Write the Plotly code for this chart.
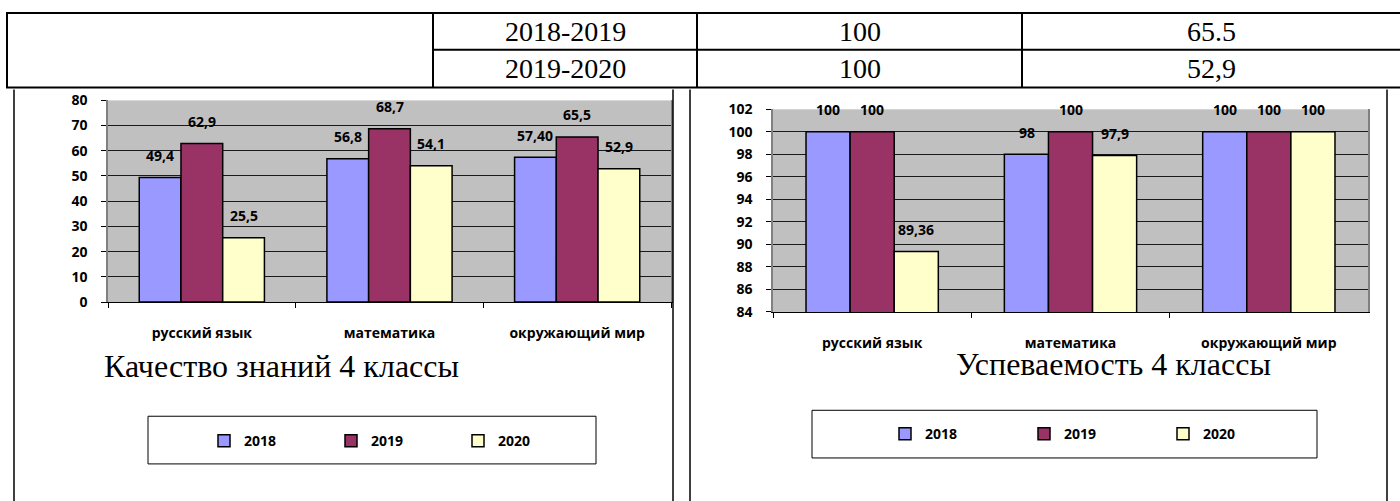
import plotly.graph_objects as go

W, H = 1400, 520
TOP, SY = 8, 0.97  # vertical offset / squeeze seen in the snapshot

# data
subjects = ["русский язык", "математика", "окружающий мир"]
years = ["2018", "2019", "2020"]

quality_2018 = [49.4, 56.8, 57.40]
quality_2019 = [62.9, 68.7, 65.5]
quality_2020 = [25.5, 54.1, 52.9]
quality_lbl_2018 = ["49,4", "56,8", "57,40"]
quality_lbl_2019 = ["62,9", "68,7", "65,5"]
quality_lbl_2020 = ["25,5", "54,1", "52,9"]

progress_2018 = [100, 98, 100]
progress_2019 = [100, 100, 100]
progress_2020 = [89.36, 97.9, 100]
progress_lbl_2018 = ["100", "98", "100"]
progress_lbl_2019 = ["100", "100", "100"]
progress_lbl_2020 = ["89,36", "97,9", "100"]

table_years = ["2018-2019", "2019-2020"]
table_col2 = ["100", "100"]
table_col3 = ["65.5", "52,9"]

title_left = "Качество знаний 4 классы"
title_right = "Успеваемость 4 классы"

colors = ["#9999FF", "#993366", "#FFFFCC"]
bold_font = "Open Sans"
serif_font = "Liberation Serif, Times New Roman, serif"


def px(x):
    return x / W


def py(y):
    return 1 - ((y - TOP) / SY) / H


fig = go.Figure()
annotations = []

charts = [
    ("x", "y", "legend", [quality_2018, quality_2019, quality_2020],
     [quality_lbl_2018, quality_lbl_2019, quality_lbl_2020], 41.7),
    ("x2", "y2", "legend2", [progress_2018, progress_2019, progress_2020],
     [progress_lbl_2018, progress_lbl_2019, progress_lbl_2020], 44),
]

for xa, ya, lg, series, labels, bw in charts:
    for i, (year, vals, lbls) in enumerate(zip(years, series, labels)):
        fig.add_trace(go.Bar(
            x=subjects, y=vals, name=year,
            xaxis=xa, yaxis=ya, legend=lg,
            marker=dict(color=colors[i], line=dict(color="black", width=1.5)),
            hoverinfo="skip"
        ))
        for s, v, t in zip(subjects, vals, lbls):
            annotations.append(dict(
                x=s, y=v, xref=xa, yref=ya, text=t,
                showarrow=False, xshift=(i - 1) * bw, yshift=22,
                xanchor="center", yanchor="middle",
                font=dict(family=bold_font, size=14, color="black",
                          weight="bold")
            ))

# table text
col_centers = [565, 860, 1211]
row_centers = [30, 67]
for r, yc in enumerate(row_centers):
    for c, txt in enumerate([table_years[r], table_col2[r], table_col3[r]]):
        annotations.append(dict(
            x=px(col_centers[c]), y=py(yc), xref="paper", yref="paper",
            text=txt, showarrow=False, xanchor="center", yanchor="middle",
            font=dict(family=serif_font, size=28, color="black")
        ))

# chart titles
annotations.append(dict(
    x=px(281), y=py(366), xref="paper", yref="paper", text=title_left,
    showarrow=False, xanchor="center", yanchor="middle",
    font=dict(family=serif_font, size=32, color="black")))
annotations.append(dict(
    x=px(1113), y=py(364), xref="paper", yref="paper", text=title_right,
    showarrow=False, xanchor="center", yanchor="middle",
    font=dict(family=serif_font, size=32, color="black")))

shapes = []


def line(x0, y0, x1, y1, w=2):
    shapes.append(dict(type="line", xref="paper", yref="paper",
                       x0=px(x0), y0=py(y0), x1=px(x1), y1=py(y1),
                       line=dict(color="black", width=w)))


# table grid
line(6, 11, 1400, 11)
line(433, 48, 1400, 48)
line(6, 86, 1400, 86)
for xv in [7, 433, 697, 1022]:
    line(xv, 11, xv, 86)

# chart frames
line(14, 88, 14, 515, 1.5)
line(673, 88, 673, 515, 1.5)
line(690, 88, 690, 515, 1.5)
line(1387, 88, 1387, 515, 1.5)

# legend boxes
for x0, y0, x1, y1 in [(148, 417, 596, 465), (812, 411, 1317, 459)]:
    shapes.append(dict(type="rect", xref="paper", yref="paper",
                       x0=px(x0), y0=py(y1), x1=px(x1), y1=py(y0),
                       line=dict(color="black", width=1)))

tick_font = dict(family=bold_font, size=14, color="black", weight="bold")
cat_font = dict(family=bold_font, size=14, color="black", weight="bold")


def xaxis(dom, anchor):
    return dict(domain=dom, anchor=anchor, showgrid=False, ticks="outside",
                tickson="boundaries", ticklen=5, tickcolor="black",
                showline=True, linecolor="black", linewidth=1,
                ticklabelstandoff=18, tickfont=cat_font, fixedrange=True)


def yaxis(dom, anchor, rng, dt):
    return dict(domain=dom, anchor=anchor, range=rng, dtick=dt,
                showgrid=True, gridcolor="#1a1a1a", gridwidth=1,
                zeroline=False, ticks="outside", ticklen=5,
                tickcolor="black", showline=True, linecolor="#808080",
                linewidth=1.5, mirror=True, ticklabelstandoff=11,
                tickfont=tick_font, fixedrange=True)


legend_common = dict(orientation="h", xanchor="left", yanchor="middle",
                     bgcolor="rgba(0,0,0,0)", borderwidth=0, itemwidth=30,
                     font=dict(family=bold_font, size=14, color="black",
                               weight="bold"),
                     traceorder="normal")

fig.update_layout(
    width=W, height=H,
    margin=dict(l=0, r=0, t=0, b=0),
    paper_bgcolor="white",
    plot_bgcolor="#C0C0C0",
    barmode="group",
    bargap=0.333,
    bargroupgap=0,
    showlegend=True,
    xaxis=xaxis([px(108), px(671)], "y"),
    yaxis=yaxis([py(302), py(99)], "x", [0, 80], 10),
    xaxis2=xaxis([px(773), px(1368)], "y2"),
    yaxis2=yaxis([py(312), py(108)], "x2", [84, 102], 2),
    legend=dict(x=px(204), y=py(442), entrywidth=82, **legend_common),
    legend2=dict(x=px(885), y=py(435), entrywidth=94, **legend_common),
    annotations=annotations,
    shapes=shapes,
)

fig.write_html(
    "out.html",
    config={"displayModeBar": False},
    post_script=(
        "document.body.style.margin='0';"
        "document.body.style.overflow='hidden';"
        "document.documentElement.style.overflow='hidden';"
    ),
)
